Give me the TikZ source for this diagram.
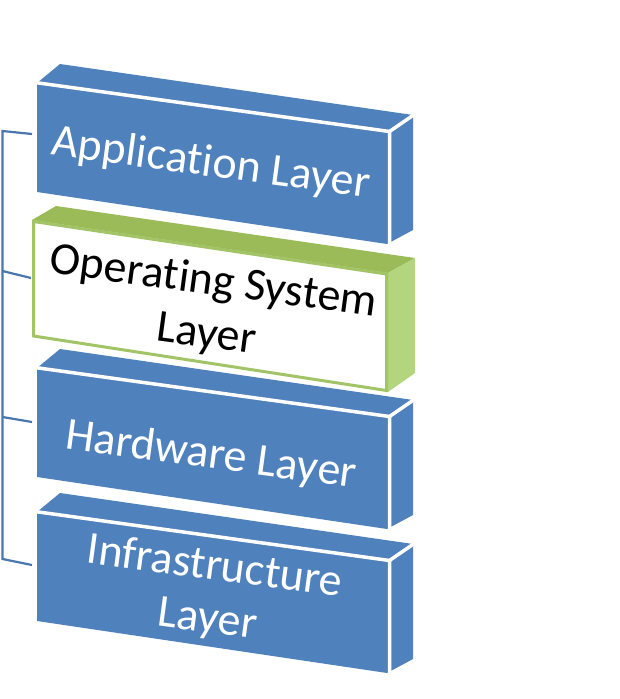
\documentclass[tikz,border=0pt]{standalone}
\usepackage{fontspec}
\setmainfont{Carlito}[Ligatures={NoCommon,NoContextual}]
\definecolor{blk}{HTML}{4F81BD}
\definecolor{osgreen}{HTML}{9BBB59}
\definecolor{osborder}{HTML}{A3C466}
\definecolor{oslight}{HTML}{B3D57D}
\definecolor{conn}{HTML}{4A76AE}
\newcommand{\layerbox}[1]{%
  \fill[blk] (37,#1) -- (60,{#1-19}) -- (413,{#1+32}) -- (387,{#1+49}) -- cycle;
  \fill[blk] (387,{#1+49}) -- (413,{#1+32}) -- (413,{#1+147}) -- (387,{#1+161}) -- cycle;
  \fill[blk] (37,#1) -- (387,{#1+49}) -- (387,{#1+161}) -- (37,{#1+109}) -- cycle;
  \draw[sepline] (35,{#1-0.5}) -- (389.5,{#1+48.5}) -- (389.5,{#1+163});
  \draw[sepline] (389.5,{#1+48.5}) -- (415,{#1+31});
}
\tikzset{
  sepline/.style={white, line width=3.5pt},
  lbl/.style={font=\fontsize{46}{53}\selectfont, inner sep=0pt, rotate=-7.7, align=center},
  connline/.style={conn, line width=2.2pt}
}
\begin{document}
\begin{tikzpicture}[x=1pt, y=-1pt]
\useasboundingbox (0,0) rectangle (620,699);
% blocks
\layerbox{83}
% OS block
\fill[osgreen] (32,220) -- (56,206) -- (415,258) -- (388,273) -- cycle;
\fill[oslight] (388,273) -- (415,258) -- (415,373) -- (388,392) -- cycle;
\filldraw[fill=white, draw=osborder, line width=3pt] (33.5,221.5) -- (386.5,274) -- (386.5,390.5) -- (33.5,336) -- cycle;
\layerbox{368}
\layerbox{512}
% labels
\node[lbl, text=white] (app) at (211,164) {Application Layer};
\node[lbl, text=black] (os) at (210,309) {Operating System\\Layer};
\node[lbl, text=white] (hw) at (211,456) {Hardware Layer};
\node[lbl, text=white] (inf) at (211,594) {Infrastructure\\Layer};
% connector anchors
\coordinate (appL) at (32,134);
\coordinate (osL) at (31,278);
\coordinate (hwL) at (32,422);
\coordinate (infL) at (32,565);
\coordinate (b1) at (2.5,131);
\coordinate (b2) at (2.5,271);
\coordinate (b3) at (2.5,417);
\coordinate (b4) at (2.5,559);
\draw[connline] (appL) -- (b1) -- (b4) -- (infL);
\draw[connline] (osL) -- (b2);
\draw[connline] (hwL) -- (b3);
\end{tikzpicture}
\end{document}
